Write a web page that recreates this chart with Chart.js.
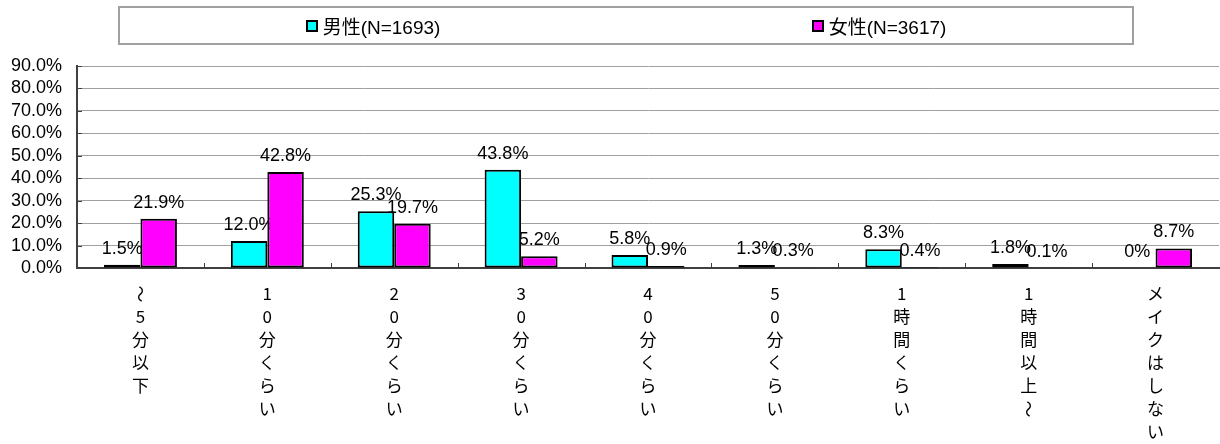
<!DOCTYPE html>
<html>
<head>
<meta charset="utf-8">
<script src="https://cdn.jsdelivr.net/npm/chart.js@4/dist/chart.umd.min.js"></script>
<style>
  body { margin: 0; background: #fff; }
  #wrap { position: relative; width: 1220px; height: 444px; }
  #chart { position: absolute; left: 0; top: 0; }
  #legend {
    position: absolute; left: 118px; top: 6px; width: 1012px; height: 35px;
    border: 2px solid #a0a0a0; display: flex;
    font: 19px "Liberation Sans", "Noto Sans CJK JP", sans-serif; color: #000;
  }
  #legend .item { flex: 1; display: flex; align-items: center; justify-content: center; }
  #legend .box { width: 8px; height: 8px; border: 2px solid #000; margin-right: 5px; }
</style>
</head>
<body>
<div id="wrap">
  <canvas id="chart" width="1220" height="444"></canvas>
  <div id="legend"></div>
</div>
<script>
const categories = ['～5分以下', '10分くらい', '20分くらい', '30分くらい', '40分くらい', '50分くらい', '1時間くらい', '1時間以上～', 'メイクはしない'];
const seriesNames = ['男性(N=1693)', '女性(N=3617)'];
const maleValues = [1.5, 12.0, 25.3, 43.8, 5.8, 1.3, 8.3, 1.8, 0];
const femaleValues = [21.9, 42.8, 19.7, 5.2, 0.9, 0.3, 0.4, 0.1, 8.7];
const seriesColors = ['#00ffff', '#ff00ff'];
const yMax = 90;
const yStep = 10;

// legend box
const legendEl = document.getElementById('legend');
seriesNames.forEach(function (name, i) {
  const item = document.createElement('div');
  item.className = 'item';
  const box = document.createElement('span');
  box.className = 'box';
  box.style.background = seriesColors[i];
  item.appendChild(box);
  item.appendChild(document.createTextNode(name));
  legendEl.appendChild(item);
});

// value labels, drawn under the bars like the original
const barLabels = {
  id: 'barLabels',
  beforeDatasetsDraw(chart) {
    const ctx = chart.ctx;
    ctx.save();
    ctx.font = '18px "Liberation Sans", Arial, sans-serif';
    ctx.fillStyle = '#000';
    ctx.textAlign = 'center';
    ctx.textBaseline = 'alphabetic';
    chart.data.datasets.forEach(function (ds, i) {
      chart.getDatasetMeta(i).data.forEach(function (bar, j) {
        const v = ds.data[j];
        const txt = v === 0 ? '0%' : v.toFixed(1) + '%';
        ctx.fillText(txt, bar.x, bar.y - 11);
      });
    });
    ctx.restore();
  }
};

// inner tick marks + vertical category labels
const axisMarks = {
  id: 'axisMarks',
  afterDraw(chart) {
    const ctx = chart.ctx;
    const a = chart.chartArea;
    const x = chart.scales.x, y = chart.scales.y;
    ctx.save();
    ctx.strokeStyle = '#404040';
    ctx.lineWidth = 1;
    ctx.beginPath();
    for (let i = 1; i < categories.length; i++) {
      const px = Math.round((x.getPixelForValue(i - 1) + x.getPixelForValue(i)) / 2) + 0.5;
      ctx.moveTo(px, a.bottom);
      ctx.lineTo(px, a.bottom - 5);
    }
    y.ticks.forEach(function (t) {
      const py = Math.round(y.getPixelForValue(t.value)) + 0.5;
      ctx.moveTo(a.left, py);
      ctx.lineTo(a.left + 5, py);
    });
    ctx.stroke();

    ctx.font = '17px "Noto Sans CJK JP", sans-serif';
    ctx.fillStyle = '#000';
    ctx.textAlign = 'center';
    ctx.textBaseline = 'middle';
    categories.forEach(function (c, i) {
      const cx = x.getPixelForValue(i);
      Array.from(c).forEach(function (ch, k) {
        const cy = a.bottom + 26 + k * 23;
        if (ch === '～') {
          ctx.save();
          ctx.translate(cx, cy);
          ctx.rotate(Math.PI / 2);
          ctx.fillText(ch, 0, 0);
          ctx.restore();
        } else {
          ctx.fillText(ch, cx, cy);
        }
      });
    });
    ctx.restore();
  }
};

const ctx = document.getElementById('chart').getContext('2d');
new Chart(ctx, {
  type: 'bar',
  data: {
    labels: categories,
    datasets: [
      {
        label: seriesNames[0],
        data: maleValues,
        backgroundColor: seriesColors[0],
        borderColor: '#000',
        borderWidth: 2,
        borderSkipped: false,
        categoryPercentage: 0.575,
        barPercentage: 1
      },
      {
        label: seriesNames[1],
        data: femaleValues,
        backgroundColor: seriesColors[1],
        borderColor: '#000',
        borderWidth: 2,
        borderSkipped: false,
        categoryPercentage: 0.575,
        barPercentage: 1
      }
    ]
  },
  options: {
    responsive: false,
    animation: false,
    layout: { padding: { top: 66, right: 1, left: 0, bottom: 0 } },
    plugins: {
      legend: { display: false },
      tooltip: { enabled: false }
    },
    scales: {
      x: {
        grid: { display: false },
        border: { color: '#404040', width: 2 },
        ticks: { display: false },
        afterFit: function (s) { s.height = 176; }
      },
      y: {
        min: 0,
        max: yMax,
        grid: { color: '#a0a0a0', drawTicks: false },
        border: { color: '#404040', width: 2 },
        ticks: {
          stepSize: yStep,
          autoSkip: false,
          padding: 15,
          color: '#000',
          font: { family: '"Liberation Sans", Arial, sans-serif', size: 18 },
          callback: function (v) { return v.toFixed(1) + '%'; }
        },
        afterFit: function (s) { s.width = 77; }
      }
    }
  },
  plugins: [barLabels, axisMarks]
});
</script>
</body>
</html>
